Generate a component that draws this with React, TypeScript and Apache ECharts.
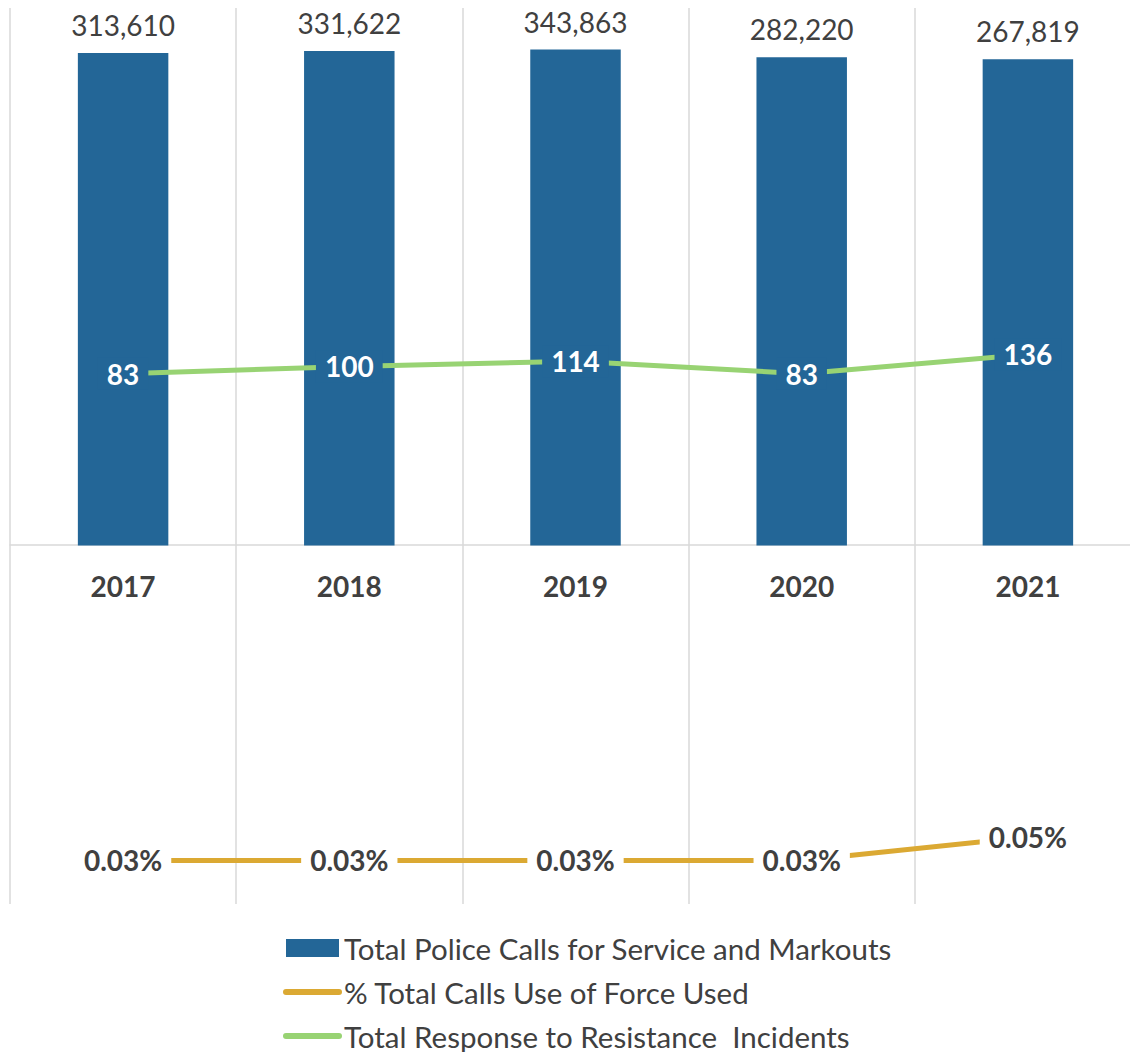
import React, { useEffect, useRef } from 'react';
import * as echarts from 'echarts';

const years = ['2017', '2018', '2019', '2020', '2021'];
const totalCalls = [313610, 331622, 343863, 282220, 267819];
const useOfForcePct = [0.0003, 0.0003, 0.0003, 0.0003, 0.0005];
const resistanceIncidents = [83, 100, 114, 83, 136];
const seriesNames = [
  'Total Police Calls for Service and Markouts',
  '% Total Calls Use of Force Used',
  'Total Response to Resistance  Incidents',
];

const BAR = '#236697';
const ORANGE = '#DBA933';
const GREEN = '#98D373';
const TEXT = '#404040';
const GRID = '#d9d9d9';
const FONT = 'Lato';

export default function App() {
  const ref = useRef<HTMLDivElement>(null);
  useEffect(() => {
    if (!ref.current) return;
    const chart = echarts.init(ref.current, undefined, { renderer: 'svg' });
    chart.setOption({
      animation: false,
      backgroundColor: '#ffffff',
      grid: { left: 10, top: 8, width: 1131, height: 896, containLabel: false, outerBoundsMode: 'none' },
      legend: {
        orient: 'vertical',
        left: 283,
        top: 933,
        height: 130,
        padding: 0,
        itemWidth: 53,
        itemHeight: 18,
        itemGap: 14,
        textStyle: { fontSize: 29.5, color: TEXT, fontFamily: FONT, lineHeight: 30 },
        data: [
          { name: seriesNames[0], icon: 'rect' },
          { name: seriesNames[1], itemStyle: { opacity: 0 }, lineStyle: { width: 6, cap: 'round' } },
          { name: seriesNames[2], itemStyle: { opacity: 0 }, lineStyle: { width: 6, cap: 'round' } },
        ],
      },
      xAxis: {
        type: 'category',
        data: years,
        position: 'bottom',
        offset: -359,
        axisLine: { show: true, onZero: false, lineStyle: { color: GRID, width: 1.5 } },
        axisTick: { show: false },
        axisLabel: { margin: 27, fontSize: 28, fontWeight: 'bold', color: TEXT, fontFamily: FONT },
        splitLine: { show: true, lineStyle: { color: GRID, width: 1.5 } },
      },
      yAxis: [
        { type: 'log', logBase: 10, min: 0.0001, max: 1000000, show: false, splitLine: { show: false } },
        { type: 'value', min: -0.00007, max: 0.00755, show: false, splitLine: { show: false } },
      ],
      series: [
        {
          name: seriesNames[0],
          type: 'bar',
          yAxisIndex: 0,
          data: totalCalls,
          barWidth: '40%',
          itemStyle: { color: BAR },
          label: {
            show: true,
            position: 'top',
            distance: 14,
            fontSize: 28,
            color: TEXT,
            fontFamily: FONT,
            formatter: (p: any) => Number(p.value).toLocaleString('en-US'),
          },
        },
        {
          name: seriesNames[1],
          type: 'line',
          yAxisIndex: 1,
          data: useOfForcePct,
          symbol: 'circle',
          symbolSize: 1,
          itemStyle: { color: ORANGE },
          lineStyle: { color: ORANGE, width: 5 },
          label: {
            show: true,
            position: 'inside',
            fontSize: 28,
            fontWeight: 'bold',
            color: TEXT,
            fontFamily: FONT,
            backgroundColor: '#ffffff',
            padding: [2, 9],
            formatter: (p: any) => (Number(p.value) * 100).toFixed(2) + '%',
          },
          z: 3,
        },
        {
          name: seriesNames[2],
          type: 'line',
          yAxisIndex: 0,
          data: resistanceIncidents,
          symbol: 'circle',
          symbolSize: 1,
          itemStyle: { color: GREEN },
          lineStyle: { color: GREEN, width: 5 },
          label: {
            show: true,
            position: 'inside',
            fontSize: 28,
            fontWeight: 'bold',
            color: '#ffffff',
            fontFamily: FONT,
            backgroundColor: BAR,
            padding: [2, 9],
            formatter: (p: any) => String(p.value),
          },
          z: 3,
        },
      ],
    });
    return () => chart.dispose();
  }, []);
  return (
    <div
      ref={ref}
      style={{ position: 'absolute', left: 0, top: 0, width: 1130, height: 1052 }}
    />
  );
}
